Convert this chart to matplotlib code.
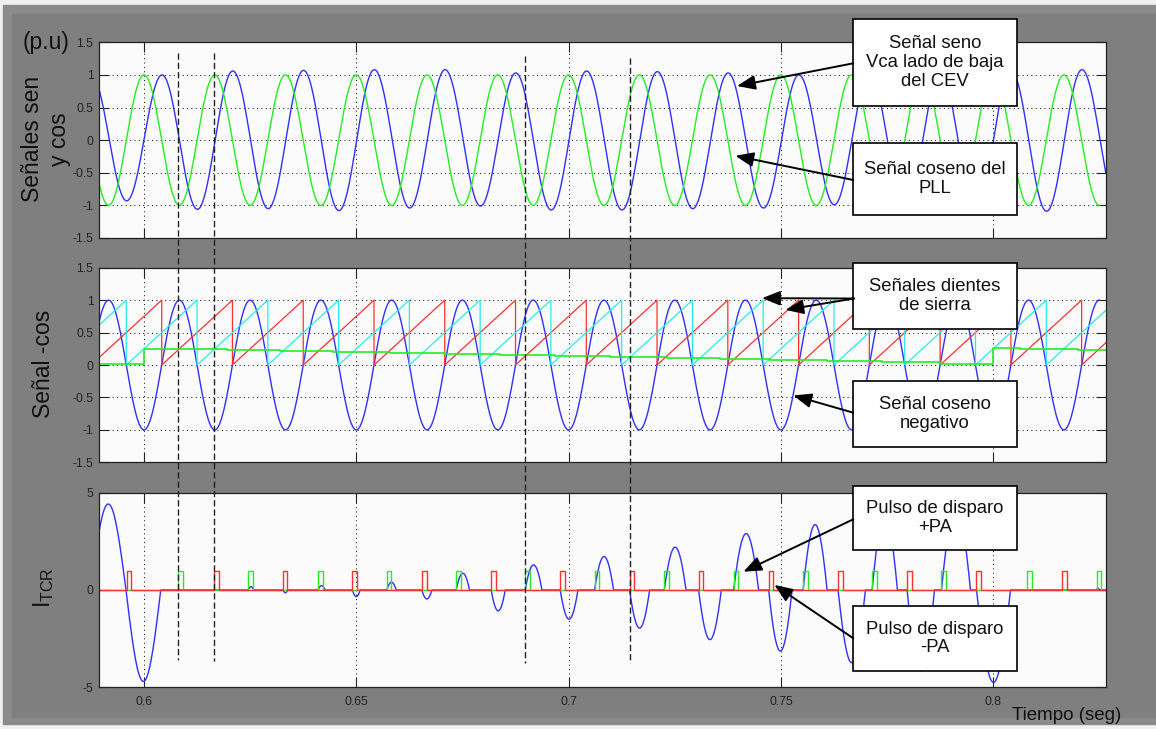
import numpy as np
import matplotlib
matplotlib.use("Agg")
import matplotlib.pyplot as plt
from matplotlib.patches import Rectangle, ConnectionPatch
from matplotlib import transforms

plt.rcParams["font.family"] = ["Liberation Sans", "DejaVu Sans"]
plt.rcParams["mathtext.default"] = "regular"
plt.rcParams["axes.unicode_minus"] = False

# ---- data ----
t_min, t_max = 0.5894, 0.8265
half_cycle = 1 / 120          # 60 Hz system

# panel 1: extrema of the grid voltage (blue) and of the PLL cosine (green)
vca_first = 0.58758
vca_ext = [1.0, -0.93, 1.0, -1.06, 1.06, -1.05, 1.07, -1.08, 1.08, -1.04,
           1.08, -1.01, 1.03, -1.07, 1.06, -1.07, 1.05, -1.05, 1.03, -1.04,
           1.0, -0.99, 1.02, -1.02, 1.03, -1.04, 1.06, -1.09, 1.08, -1.0]
pll_first = 0.58333
pll_ext = [1, -1] * 15

# panel 2: -cos extrema, sawtooth reset instants, control level (green)
negcos_first = 0.58333
negcos_ext = [-1, 1] * 15
saw_cyan = [0.57917, 0.59583, 0.61250, 0.62917, 0.64583, 0.66250, 0.67917,
            0.69583, 0.71250, 0.72917, 0.74583, 0.76250, 0.77917, 0.79583,
            0.81250, 0.82917]
saw_red = [0.58750, 0.60417, 0.62083, 0.63750, 0.65417, 0.67083, 0.68750,
           0.70417, 0.72083, 0.73750, 0.75417, 0.77083, 0.78750, 0.80417,
           0.82083, 0.83750]
ctrl_t = [0.5894, 0.6, 0.60613, 0.61956, 0.63205, 0.64454, 0.65797, 0.67093,
          0.68389, 0.69685, 0.70981, 0.72325, 0.73574, 0.74752, 0.76095,
          0.77391, 0.78758, 0.8, 0.80643, 0.81987, 0.8265]
ctrl_v = [0.01, 0.25, 0.24, 0.225, 0.21, 0.195, 0.18, 0.165, 0.15, 0.135,
          0.12, 0.105, 0.09, 0.075, 0.055, 0.04, 0.015, 0.255, 0.24, 0.225,
          0.225]

# panel 3: firing pulses and TCR current lobes (start, end, peak)
pulse_width = 0.0011
pulse_pos = [0.60808, 0.62458, 0.64100, 0.65719, 0.67352, 0.68978, 0.70612,
             0.72254, 0.73887, 0.75523, 0.77149, 0.78782, 0.80801, 0.82434]
pulse_neg = [0.59592, 0.61650, 0.63269, 0.64909, 0.66544, 0.68177, 0.69803,
             0.71436, 0.73062, 0.74712, 0.76347, 0.77973, 0.79607, 0.81626]
lobe_start = [0.58742, 0.59576, 0.62458, 0.63276, 0.64100, 0.64909, 0.65719,
              0.66544, 0.67352, 0.68177, 0.68978, 0.69803, 0.70612, 0.71436,
              0.72254, 0.73062, 0.73887, 0.74712, 0.75523, 0.76347, 0.77149,
              0.77973, 0.78782, 0.79607, 0.82434]
lobe_end = [0.59576, 0.60394, 0.62580, 0.63382, 0.64265, 0.65090, 0.65939,
            0.66780, 0.67666, 0.68507, 0.69372, 0.70220, 0.71059, 0.71908,
            0.72765, 0.73597, 0.74476, 0.75263, 0.76088, 0.76991, 0.77745,
            0.78617, 0.79465, 0.80408, 0.82505]
lobe_peak = [4.42, -4.7, 0.17, -0.14, 0.22, -0.34, 0.40, -0.46, 0.86, -1.07,
             1.29, -1.50, 1.72, -1.96, 2.20, -2.55, 2.90, -3.14, 3.36, -3.74,
             3.85, -4.15, 4.35, -4.75, 0.08]

mark_t = [0.60808, 0.61650, 0.68978, 0.71436]

C_BLUE = "#3030ff"
C_GREEN = "#22ee22"
C_RED = "#ff3030"
C_CYAN = "#22eeee"


def through_extrema(t_first, values, n=50):
    ts, ys = [], []
    for k in range(len(values) - 1):
        s = np.linspace(0, 1, n)
        ts.append(t_first + (k + s) * half_cycle)
        ys.append(values[k] * (1 + np.cos(np.pi * s)) / 2
                  + values[k + 1] * (1 - np.cos(np.pi * s)) / 2)
    return np.concatenate(ts), np.concatenate(ys)


def sawtooth(resets):
    xs, ys = [], []
    for a, b in zip(resets[:-1], resets[1:]):
        xs += [a, b, b]
        ys += [0, 1, 0]
    return xs, ys


def pulses(starts):
    xs, ys = [t_min], [0]
    for s in starts:
        xs += [s, s, s + pulse_width, s + pulse_width]
        ys += [0, 1, 1, 0]
    xs.append(t_max)
    ys.append(0)
    return xs, ys


def current():
    w = 2 * np.pi * 60
    xs, ys = [], []
    for a, b, p in zip(lobe_start, lobe_end, lobe_peak):
        tc = (a + b) / 2
        c0 = np.cos(w * (a - tc))
        t = np.linspace(a, b, 40)
        xs.append(t)
        ys.append(p * (np.cos(w * (t - tc)) - c0) / (1 - c0))
    xs.append([t_max])
    ys.append([0])
    return np.concatenate(xs), np.concatenate(ys)


W, H = 1156, 729
fig = plt.figure(figsize=(W / 100, H / 100), dpi=100)
fig.patch.set_facecolor("#f0f0f0")


def fx(x):
    return x / W


def fy(y):
    return 1 - y / H


fig.patches.append(Rectangle((fx(3), fy(724)), fx(1153), 719 / H,
                             transform=fig.transFigure, color="#8b8b8b", zorder=-3))
fig.patches.append(Rectangle((fx(12), fy(717)), fx(1144), 703 / H,
                             transform=fig.transFigure, color="#7f7f7f", zorder=-2))

left, width = fx(99), 1006.7 / W
ax1 = fig.add_axes([left, fy(238), width, 195.7 / H])
ax2 = fig.add_axes([left, fy(462.3), width, 194.6 / H])
ax3 = fig.add_axes([left, fy(687.3), width, 194.6 / H])

grid_style = dict(color="black", linewidth=0.7, linestyle=(0, (1, 3.5)))
for ax in (ax1, ax2, ax3):
    ax.set_facecolor("#fbfbfb")
    ax.set_xlim(t_min, t_max)
    ax.set_xticks([0.6, 0.65, 0.7, 0.75, 0.8])
    ax.grid(True, **grid_style)
    ax.tick_params(direction="in", length=7, width=0.8, top=True, right=True,
                   labelsize=8.7, colors="#222222", pad=4)
    for sp in ax.spines.values():
        sp.set_color("#222222")
        sp.set_linewidth(0.9)

for ax in (ax1, ax2):
    ax.set_ylim(-1.5, 1.5)
    ax.set_yticks([-1.5, -1, -0.5, 0, 0.5, 1, 1.5])
    ax.set_yticklabels(["-1.5", "-1", "-0.5", "0", "0.5", "1", "1.5"])
    ax.set_xticklabels([])
ax3.set_ylim(-5, 5)
ax3.set_yticks([-5, 0, 5])
ax3.set_yticklabels(["-5", "0", "5"])
ax3.set_xticklabels(["0.6", "0.65", "0.7", "0.75", "0.8"])
ax3.tick_params(axis="x", pad=6)

# panel 1
t, y = through_extrema(vca_first, vca_ext)
ax1.plot(t, y, color=C_BLUE, lw=1.0)
t, y = through_extrema(pll_first, pll_ext)
ax1.plot(t, y, color=C_GREEN, lw=1.0)

# panel 2
t, y = through_extrema(negcos_first, negcos_ext)
ax2.plot(t, y, color=C_BLUE, lw=1.0)
ax2.plot(*sawtooth(saw_red), color=C_RED, lw=0.9)
ax2.plot(*sawtooth(saw_cyan), color=C_CYAN, lw=0.9)
ax2.step(ctrl_t, ctrl_v, where="post", color=C_GREEN, lw=1.2)

# panel 3
ax3.plot(*current(), color=C_BLUE, lw=1.0)
ax3.plot(*pulses(pulse_pos), color=C_GREEN, lw=1.0)
ax3.plot(*pulses(pulse_neg), color=C_RED, lw=1.0)

# axis labels
lab = dict(fontsize=16.5, color="#111111", ha="center", va="center")
fig.text(fx(46), fy(139), "Señales sen\ny cos", rotation=90,
         linespacing=1.25, **lab)
fig.text(fx(46), fy(42), "(p.u)", **lab)
fig.text(fx(44), fy(364), "Señal -cos", rotation=90, **lab)
fig.text(fx(44), fy(588), r"I$_{TCR}$", rotation=90, **lab)
fig.text(fx(1067), fy(719.5), "Tiempo (seg)", fontsize=13.5, color="#111111",
         ha="center", va="baseline")

# dashed marker lines across the panels
blend = transforms.blended_transform_factory(ax3.transData, fig.transFigure)
mark_top = [52.7, 53, 56, 58.3]
mark_bot = [660, 660.7, 662.7, 662.7]
for tm, a, b in zip(mark_t, mark_top, mark_bot):
    fig.add_artist(plt.Line2D([tm, tm], [fy(a), fy(b)], transform=blend,
                              color="#222222", lw=1.0, linestyle=(0, (4.5, 2.2))))

# annotation boxes
boxes = [
    ((853, 19, 1017, 106), "Señal seno\nVca lado de baja\ndel CEV"),
    ((853, 143, 1017, 215), "Señal coseno del\nPLL"),
    ((853, 263, 1017, 329), "Señales dientes\nde sierra"),
    ((853, 381, 1017, 447), "Señal coseno\nnegativo"),
    ((853, 486, 1017, 550), "Pulso de disparo\n+PA"),
    ((853, 606, 1017, 671), "Pulso de disparo\n-PA"),
]
for (x0, y0, x1, y1), txt in boxes:
    fig.patches.append(Rectangle((fx(x0), fy(y1)), (x1 - x0) / W, (y1 - y0) / H,
                                 transform=fig.transFigure, facecolor="white",
                                 edgecolor="black", lw=1.2, zorder=5))
    fig.text(fx((x0 + x1) / 2), fy((y0 + y1) / 2), txt, fontsize=13.3,
             ha="center", va="center", linespacing=1.15, color="#111111",
             zorder=6)

arrows = [
    ((853.3, 63.3), ax1, (0.73967, 0.83)),
    ((853.3, 180), ax1, (0.73927, -0.24)),
    ((854, 298.5), ax2, (0.74556, 1.03)),
    ((854, 298.5), ax2, (0.75106, 0.85)),
    ((853.3, 412.7), ax2, (0.75294, -0.47)),
    ((853.3, 519.3), ax3, (0.74116, 0.94)),
    ((853.3, 638.3), ax3, (0.74846, 0.26)),
]
for (px, py), ax, tip in arrows:
    con = ConnectionPatch(xyA=(fx(px), fy(py)), coordsA=fig.transFigure,
                          xyB=tip, coordsB=ax.transData,
                          arrowstyle="-|>,head_length=0.55,head_width=0.22",
                          mutation_scale=20, color="black", lw=1.4, zorder=7)
    fig.add_artist(con)

fig.savefig("out.png", dpi=100, facecolor=fig.get_facecolor())
